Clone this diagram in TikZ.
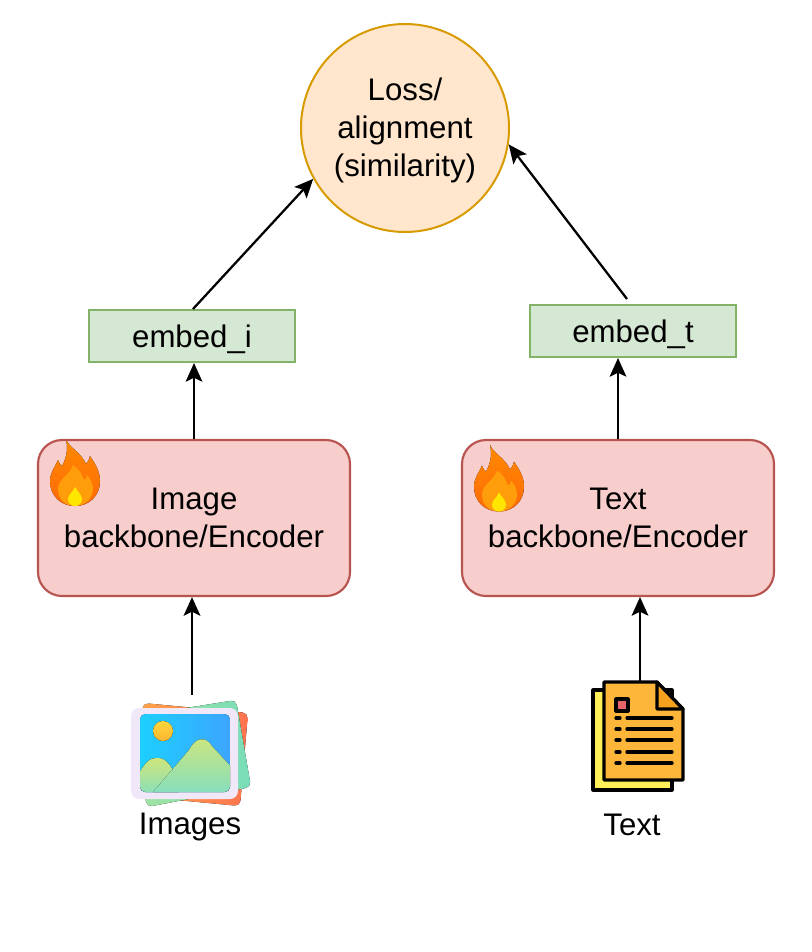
\documentclass[tikz,border=0pt]{standalone}
\usepackage{fontspec}
\setmainfont{Liberation Sans}
\usetikzlibrary{arrows.meta,shapes.geometric}

\definecolor{encfill}{HTML}{F8CECC}
\definecolor{encline}{HTML}{B85450}
\definecolor{embfill}{HTML}{D5E8D4}
\definecolor{embline}{HTML}{82B366}
\definecolor{lossfill}{HTML}{FFE6CC}
\definecolor{lossline}{HTML}{D79B00}
\definecolor{fireout}{HTML}{FF8A00}
\definecolor{firelow}{HTML}{FF6A08}
\definecolor{firemid}{HTML}{FF9D0A}
\definecolor{firecore}{HTML}{FFE600}
\definecolor{cardred}{HTML}{FF7350}
\definecolor{cardorange}{HTML}{FFA548}
\definecolor{cardgreen}{HTML}{A6E4A0}
\definecolor{cardteal}{HTML}{78DDB8}
\definecolor{frame}{HTML}{F0E8F8}
\definecolor{skyleft}{HTML}{1CCFFF}
\definecolor{skyright}{HTML}{3DA5FF}
\definecolor{hilllight}{HTML}{CFE67C}
\definecolor{hillteal}{HTML}{7DDDC4}
\definecolor{sunlight}{HTML}{FFD63C}
\definecolor{sundark}{HTML}{FDB52E}
\definecolor{docfront}{HTML}{FDB53A}
\definecolor{docback}{HTML}{FFF05A}
\definecolor{docfold}{HTML}{F5A11E}
\definecolor{docmark}{HTML}{E8636A}

\tikzset{
  lbl/.style={draw=none,align=center,inner sep=0pt,font=\fontsize{23.4}{28.5}\selectfont},
  encoder/.style={lbl,draw=encline,fill=encfill,line width=1.6pt,rounded corners=18pt,
    minimum width=234pt,minimum height=117pt},
  embed/.style={lbl,draw=embline,fill=embfill,line width=1.5pt,text height=21pt,text depth=4pt,
    minimum width=154.5pt,minimum height=39pt},
  arrow/.style={-{Stealth[length=14pt,width=12.5pt,inset=3pt]},line width=1.7pt,black},
  flame/.pic={
    \fill [top color=fireout,bottom color=firelow]
      (16,0) .. controls (18,8) and (31,13) .. (36,25) .. controls (38,23) and (39,21) .. (40,17)
      .. controls (46,26) and (50,33) .. (50,42) .. controls (50,57) and (39,67) .. (25,67)
      .. controls (11,67) and (0,57) .. (0,42) .. controls (0,34) and (5,28) .. (8,21)
      .. controls (9,24) and (10,26) .. (12,27) .. controls (17,18) and (18,10) .. (16,0) -- cycle;
    \fill [firemid]
      (23,26) .. controls (29,30) and (32,35) .. (34,41) .. controls (36,40) and (37,38) .. (37,36)
      .. controls (41,41) and (43,45) .. (43,50) .. controls (43,60) and (34,67) .. (25,67)
      .. controls (15,67) and (8,60) .. (8,50) .. controls (8,40) and (20,36) .. (23,26) -- cycle;
    \fill [firecore]
      (25,48) .. controls (28,53) and (32,56) .. (32,60) .. controls (32,64) and (29,67) .. (25,67)
      .. controls (21,67) and (18,64) .. (18,60) .. controls (18,56) and (23,53) .. (25,48) -- cycle;
  },
  photos/.pic={
    \fill [rounded corners=4pt,left color=cardorange,right color=cardred]
      (143,703) -- (248,713) -- (240,806) -- (134,796) -- cycle;
    \fill [rounded corners=4pt,left color=cardgreen,right color=cardteal]
      (130,717) -- (236,700) -- (251,787) -- (147,807) -- cycle;
    \fill [rounded corners=6pt,fill=frame] (131,708) rectangle (238,799);
    \begin{scope}
      \clip [rounded corners=4pt] (140,714) rectangle (230,792);
      \fill [left color=skyleft,right color=skyright] (140,714) rectangle (230,792);
      \fill [top color=hilllight,bottom color=hillteal]
        (135,780) .. controls (146,760) and (150,758) .. (158,758) .. controls (166,758) and (170,765) .. (176,775) -- (180,800) -- (135,800) -- cycle;
      \fill [top color=hilllight,bottom color=hillteal]
        (153,792) -- (189,750) .. controls (195,738) and (205,735) .. (212,746) -- (235,771) -- (235,800) -- (150,800) -- cycle;
    \end{scope}
    \fill [top color=sunlight,bottom color=sundark] (163,731) circle [radius=10];
  },
  docs/.pic={
    \draw [line width=2.4pt,line join=round,fill=docback] (593,690) rectangle (672,790);
    \draw [line width=2.4pt,line join=round,fill=docfront]
      (604,682) -- (657,682) -- (683,709) -- (683,780) -- (604,780) -- cycle;
    \draw [line width=2.4pt,line join=round,fill=docfold]
      (657,682) -- (683,709) -- (657,709) -- cycle;
    \draw [line width=2.4pt,line join=round,fill=docmark] (616,699) rectangle (628,711);
    \foreach \ly in {718,729,740,752,763} {
      \draw [line width=2.4pt,line cap=round] (616,\ly) -- (620,\ly);
      \draw [line width=2.4pt,line cap=round] (627,\ly) -- (672,\ly);
    }
  }
}

\begin{document}
\begin{tikzpicture}[x=0.75pt,y=-0.75pt]
    \useasboundingbox (0,0) rectangle (812,952);

    % loss on top
    \node [lbl,shape=circle,draw=lossline,fill=lossfill,line width=1.5pt,minimum size=156pt,name=loss] at (405,128) {\rule{0pt}{21pt}Loss/\\alignment\\(similarity)};

    % image side
    \node [embed,name=embedi] at (192,336) {embed\_i};
    \node [encoder,name=imgenc] at (194,518) {Image\\backbone/Encoder};
    \node [minimum width=90pt,minimum height=82pt,inner sep=0pt,name=imgicon] at (192,750) {};
    \node [lbl,name=imglbl] at (190,827) {Images};
    \pic at (0,0) {photos};
    \pic at (50,439) {flame};

    % text side
    \node [embed,name=embedt] at (633,331) {embed\_t};
    \node [encoder,name=txtenc] at (618,518) {Text\\backbone/Encoder};
    \node [minimum width=70pt,minimum height=80pt,inner sep=0pt,name=txticon] at (640,735) {};
    \node [lbl,name=txtlbl] at (632,825) {Text};
    \pic at (0,0) {docs};
    \pic at (474,444.5) {flame};

    % connector ends
    \coordinate (embediout) at (193,309);
    \coordinate (embedtout) at (627,299);
    \coordinate (txtin) at (640,597);

    \draw [arrow] (imgicon.north) -- (imgicon.north |- imgenc.south);
    \draw [arrow] (txticon.north) -- (txtin);
    \draw [arrow] (imgenc.north) -- (imgenc.north |- embedi.south);
    \draw [arrow] (txtenc.north) -- (txtenc.north |- embedt.south);
    \draw [arrow] (embediout) -- (loss.209);
    \draw [arrow] (embedtout) -- (loss.-9);
  \end{tikzpicture}
\end{document}
